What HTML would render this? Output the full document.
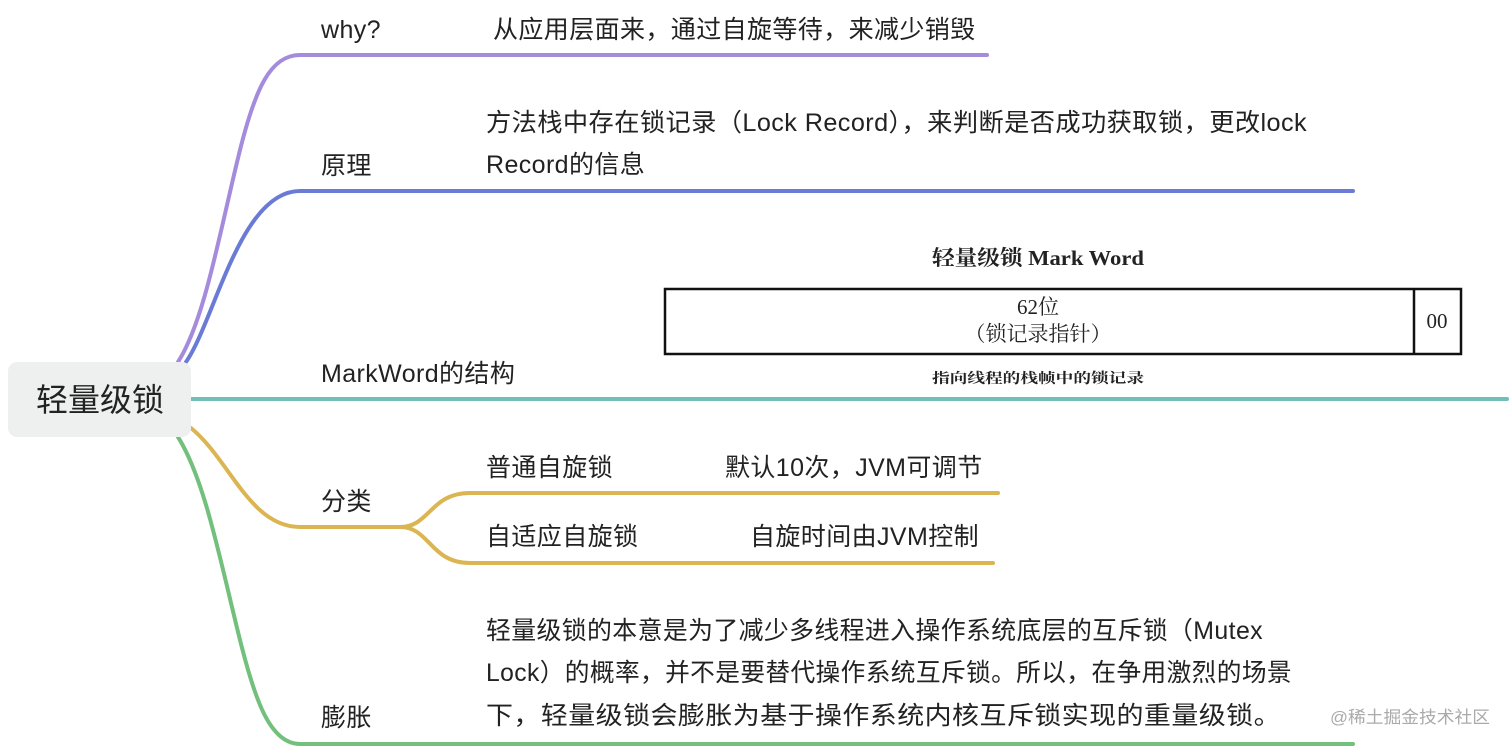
<!DOCTYPE html>
<html><head><meta charset="utf-8"><style>
html,body{margin:0;padding:0;background:#fff;}
svg{display:block}
text{font-family:"Liberation Sans","Noto Sans CJK SC",sans-serif;fill:#222;}
.s{font-family:"Liberation Serif","Noto Serif CJK SC",serif;}
.m{font-size:25px;letter-spacing:0.4px}
</style></head><body>
<svg width="1512" height="748" viewBox="0 0 1512 748" xmlns="http://www.w3.org/2000/svg">
<g fill="none" stroke-width="4" stroke-linecap="round">
<path d="M178 362 C205 320 220 230 240 150 C255 90 270 55 300 55 L987 55" stroke="#a48bdc"/>
<path d="M186 362 C215 320 240 191 300 191 L1353 191" stroke="#6a7bd6"/>
<path d="M191 399 L1507 399" stroke="#6fc0bb"/>
<path d="M191 428 C230 460 250 527 300 527 L400 527 C430 527 430 493 470 493 L998 493 M400 527 C430 527 430 563 470 563 L993 563" stroke="#dbb552"/>
<path d="M178 437 C205 480 220 560 240 640 C255 700 270 744 300 744 L1353 744" stroke="#72c07c"/>
</g>
<rect x="8" y="362" width="183" height="75" rx="9" fill="#eef0ef"/>
<text x="100" y="411" font-size="32" text-anchor="middle">轻量级锁</text>
<g class="m">
<text x="321" y="38">why?</text>
<text x="493" y="38">从应用层面来，通过自旋等待，来减少销毁</text>
<text x="321" y="174">原理</text>
<text x="486" y="131" textLength="821" lengthAdjust="spacingAndGlyphs">方法栈中存在锁记录（Lock Record），来判断是否成功获取锁，更改lock</text>
<text x="486" y="173">Record的信息</text>
<text x="321" y="382">MarkWord的结构</text>
<text x="321" y="510">分类</text>
<text x="486" y="476">普通自旋锁</text>
<text x="725" y="476">默认10次，JVM可调节</text>
<text x="486" y="545">自适应自旋锁</text>
<text x="750" y="545">自旋时间由JVM控制</text>
<text x="321" y="726">膨胀</text>
<text x="486" y="639" textLength="777" lengthAdjust="spacingAndGlyphs">轻量级锁的本意是为了减少多线程进入操作系统底层的互斥锁（Mutex</text>
<text x="486" y="681" textLength="806" lengthAdjust="spacingAndGlyphs">Lock）的概率，并不是要替代操作系统互斥锁。所以，在争用激烈的场景</text>
<text x="486" y="724" textLength="795" lengthAdjust="spacingAndGlyphs">下，轻量级锁会膨胀为基于操作系统内核互斥锁实现的重量级锁。</text>
</g>
<text x="1038" y="265" font-size="21" font-weight="bold" text-anchor="middle" class="s" textLength="212" lengthAdjust="spacingAndGlyphs">轻量级锁 Mark Word</text>
<rect x="665" y="289" width="796" height="65" fill="none" stroke="#111" stroke-width="2.5"/>
<line x1="1414" y1="289" x2="1414" y2="354" stroke="#111" stroke-width="2.5"/>
<text x="1038" y="314" font-size="21" text-anchor="middle" class="s">62位</text>
<text x="1038" y="341" font-size="21" text-anchor="middle" class="s">（锁记录指针）</text>
<text x="1437" y="328" font-size="21" text-anchor="middle" class="s">00</text>
<text x="1038" y="383" font-size="14" font-weight="bold" text-anchor="middle" class="s" textLength="212" lengthAdjust="spacingAndGlyphs">指向线程的栈帧中的锁记录</text>
<text x="1330" y="723" font-size="17" style="fill:#aaa" textLength="160" lengthAdjust="spacingAndGlyphs">@稀土掘金技术社区</text>
</svg>
</body></html>
